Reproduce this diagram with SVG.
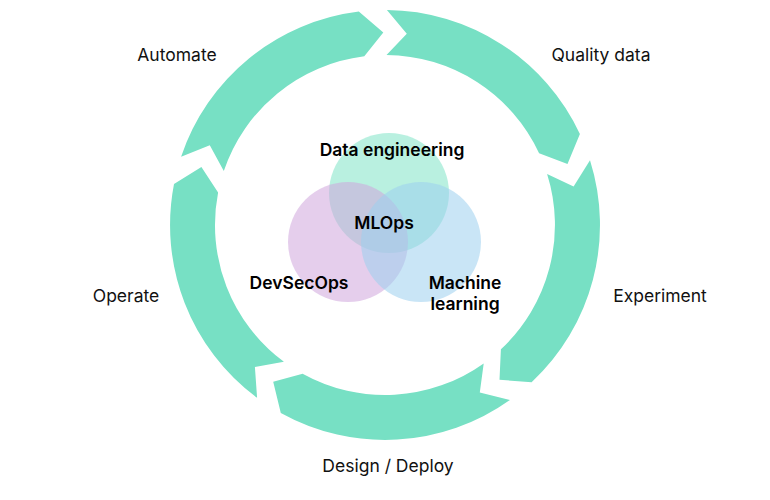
<svg xmlns="http://www.w3.org/2000/svg" width="770" height="500" viewBox="0 0 770 500">
<style>
.seg{fill:#77e0c4}
.lbl{font-family:Inter,"Liberation Sans",sans-serif;font-size:17.5px;fill:#111}
.b{font-weight:600;fill:#000}
</style>
<rect width="770" height="500" fill="#fff"/>
<g id="cycle">
<path id="s1" class="seg" d="M386.9,10 A215,215 0 0 1 579.9,134.1 L567.5,163.9 L539.1,153.2 A170,170 0 0 0 386.5,55 L406.8,33.7 Z"/>
<path id="s2" class="seg" d="M590,160.3 A215,215 0 0 1 531.6,382.3 L499.5,379.8 L500.9,349.3 A170,170 0 0 0 547.1,173.9 L573.6,186.6 Z"/>
<path id="s3" class="seg" d="M509.9,400 A215,215 0 0 1 280.8,413 L273.2,381.7 L302.6,373.7 A170,170 0 0 0 483.7,363.4 L479.8,392.6 Z"/>
<path id="s4" class="seg" d="M257.1,397.8 A215,215 0 0 1 174,184 L201.4,167.1 L218.1,192.6 A170,170 0 0 0 283.9,361.7 L254.9,366.9 Z"/>
<path id="s5" class="seg" d="M181.1,156.8 A215,215 0 0 1 358.8,11.6 L383.3,32.5 L364.3,56.3 A170,170 0 0 0 223.8,171.1 L209.8,145.2 Z"/>
</g>
<g id="venn">
<circle id="c-data" cx="389" cy="193" r="60" fill="#80e3c6" opacity="0.55"/>
<circle id="c-devsec" cx="348" cy="242" r="60" fill="#cfa6dc" opacity="0.55"/>
<circle id="c-ml" cx="421" cy="242" r="60" fill="#9ccfee" opacity="0.55"/>
</g>
<g id="labels">
<text class="lbl" x="177" y="61" text-anchor="middle">Automate</text>
<text class="lbl" x="601" y="61" text-anchor="middle">Quality data</text>
<text class="lbl" x="126" y="302" text-anchor="middle">Operate</text>
<text class="lbl" x="660" y="302" text-anchor="middle">Experiment</text>
<text class="lbl" x="388" y="472" text-anchor="middle">Design / Deploy</text>
<text class="lbl b" x="392" y="156" text-anchor="middle">Data engineering</text>
<text class="lbl b" x="384" y="229" text-anchor="middle">MLOps</text>
<text class="lbl b" x="299" y="289" text-anchor="middle">DevSecOps</text>
<text class="lbl b" x="465" y="289" text-anchor="middle">Machine</text>
<text class="lbl b" x="465" y="310" text-anchor="middle">learning</text>
</g>
</svg>
